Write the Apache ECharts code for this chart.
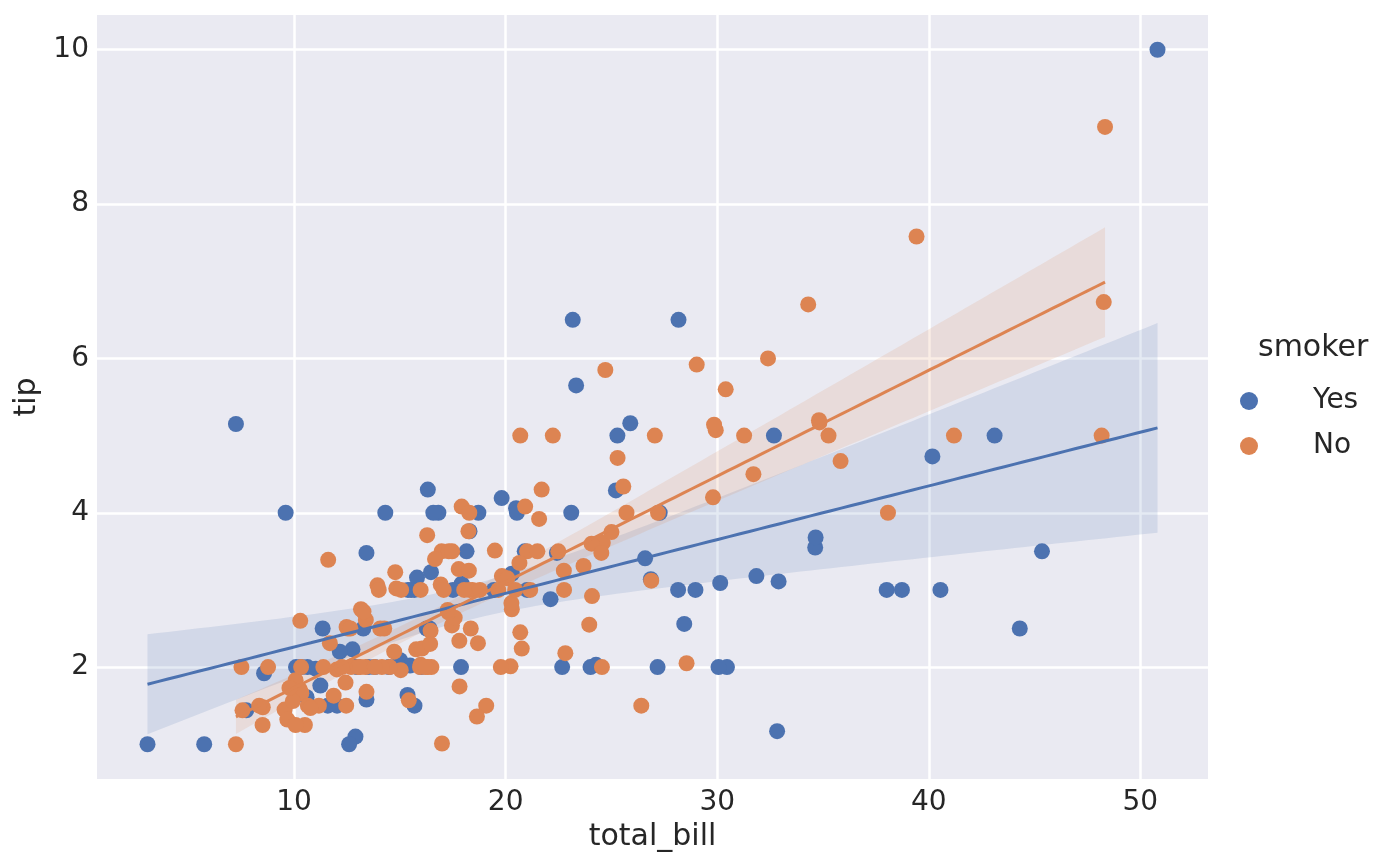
<!DOCTYPE html>
<html>
<head>
<meta charset="utf-8">
<script src="https://cdn.jsdelivr.net/npm/echarts@6/dist/echarts.min.js"></script>
<style>
  html, body { margin: 0; padding: 0; background: #fff; }
  #main { width: 1400px; height: 866px; }
</style>
</head>
<body>
<div id="main"></div>
<script>
// smoker = Yes
const yesBill = [38.01,11.24,20.29,13.81,11.02,18.29,3.07,15.01,26.86,25.28,17.92,19.44,32.68,28.97,5.75,16.32,40.17,27.28,12.03,21.01,
  11.35,15.38,44.3,22.42,15.36,20.49,25.21,14.31,16.0,17.51,10.59,10.63,50.81,15.81,7.25,31.85,16.82,32.9,17.89,14.48,
  9.6,34.63,34.65,23.33,45.35,23.17,40.55,20.9,30.46,18.15,23.1,15.69,19.81,28.44,15.48,16.58,10.34,43.11,13.0,13.51,
  18.71,12.74,13.0,16.4,20.53,16.47,26.59,38.73,24.27,12.76,30.06,25.89,13.27,28.17,12.9,28.15,11.59,7.74,30.14,12.16,
  13.42,8.58,13.42,16.27,10.09,22.12,24.01,15.69,15.53,12.6,32.83,27.18,22.67];
const yesTip = [3.0,1.76,3.21,2.0,1.98,3.76,1.0,2.09,3.14,5.0,3.08,3.0,5.0,3.0,1.0,4.3,4.73,4.0,1.5,3.0,
  2.5,3.0,2.5,3.48,1.64,4.06,4.29,4.0,2.0,3.0,1.61,2.0,10.0,3.16,5.15,3.18,4.0,3.11,2.0,2.0,
  4.0,3.55,3.68,5.65,3.5,6.5,3.0,3.5,2.0,3.5,4.0,1.5,4.19,2.56,2.02,4.0,2.0,5.0,2.0,2.0,
  4.0,2.01,2.0,2.5,4.0,3.23,3.41,3.0,2.03,2.23,2.0,5.16,2.5,6.5,1.1,3.0,1.5,1.44,3.09,2.2,
  3.48,1.92,1.58,2.5,2.0,2.88,2.0,3.0,3.0,1.0,1.17,2.0,2.0];

// smoker = No
const noBill = [16.99,10.34,21.01,23.68,24.59,25.29,8.77,26.88,15.04,14.78,10.27,35.26,15.42,18.43,14.83,21.58,10.33,16.29,16.97,20.65,
  17.92,20.29,15.77,39.42,19.82,17.81,13.37,12.69,21.7,19.65,9.55,18.35,15.06,20.69,17.78,24.06,16.31,16.93,18.69,31.27,
  16.04,17.46,13.94,9.68,30.4,18.29,22.23,32.4,28.55,18.04,12.54,10.29,34.81,9.94,25.56,19.49,26.41,48.27,17.59,20.08,
  16.45,20.23,12.02,17.07,14.73,10.51,27.2,22.76,17.29,16.66,10.07,15.98,34.83,13.03,18.28,24.71,21.16,22.49,22.75,12.46,
  20.92,18.24,14.0,7.25,38.07,23.95,25.71,17.31,29.93,10.65,12.43,24.08,11.69,13.42,14.26,15.95,12.48,29.8,8.52,14.52,
  11.38,22.82,19.08,20.27,11.17,12.26,18.26,8.51,10.33,14.15,13.16,17.47,34.3,41.19,27.05,16.43,8.35,18.64,11.87,9.78,
  7.51,14.07,13.13,17.26,24.55,19.77,29.85,48.17,25.0,13.39,16.49,21.5,12.66,16.21,13.81,24.52,20.76,31.71,20.69,7.56,
  48.33,15.98,20.45,13.28,11.61,10.77,10.07,35.83,29.03,17.82,18.78];
const noTip = [1.01,1.66,3.5,3.31,3.61,4.71,2.0,3.12,1.96,3.23,1.71,5.0,1.57,3.0,3.02,3.92,1.67,3.71,3.5,3.35,
  4.08,2.75,2.23,7.58,3.18,2.34,2.0,2.0,4.3,3.0,1.45,2.5,3.0,2.45,3.27,3.6,2.0,3.07,2.31,5.0,
  2.24,2.54,3.06,1.32,5.6,3.0,5.0,6.0,2.05,3.0,2.5,2.6,5.2,1.56,4.34,3.51,1.5,6.73,2.64,3.15,
  2.47,2.01,1.97,3.0,2.2,1.25,4.0,3.0,2.71,3.4,1.83,2.03,5.17,2.0,4.0,5.85,3.0,3.5,3.25,1.5,
  4.08,3.76,3.0,1.0,4.0,2.55,4.0,3.5,5.07,1.5,1.8,2.92,2.31,1.68,2.5,2.0,2.52,4.2,1.48,2.0,
  2.0,2.18,1.5,2.83,1.5,2.0,3.25,1.25,2.0,2.0,2.75,3.5,6.7,5.0,5.0,2.3,1.5,1.36,1.63,1.73,
  2.0,2.5,2.0,2.74,2.0,2.0,5.14,5.0,3.75,2.61,2.0,3.5,2.5,2.0,2.0,3.48,2.24,4.5,5.0,1.44,
  9.0,3.0,3.0,2.72,3.39,1.47,1.25,4.67,5.92,1.75,3.0];

const groups = ['Yes', 'No'];
const xTicks = [10, 20, 30, 40, 50];
const yTicks = [2, 4, 6, 8, 10];
const colors = ['#4C72B0', '#DD8452'];

// ordinary least squares with a robust (sandwich) 95% band, close to seaborn's bootstrap
function regress(xs, ys) {
  const n = xs.length;
  let sx = 0, sy = 0, sxx = 0, sxy = 0;
  for (let i = 0; i < n; i++) { sx += xs[i]; sy += ys[i]; sxx += xs[i] * xs[i]; sxy += xs[i] * ys[i]; }
  const b = (n * sxy - sx * sy) / (n * sxx - sx * sx);
  const a = (sy - b * sx) / n;
  const det = n * sxx - sx * sx;
  const i00 = sxx / det, i01 = -sx / det, i11 = n / det;
  let m00 = 0, m01 = 0, m11 = 0;
  for (let i = 0; i < n; i++) {
    const e = ys[i] - (a + b * xs[i]);
    const e2 = e * e;
    m00 += e2; m01 += e2 * xs[i]; m11 += e2 * xs[i] * xs[i];
  }
  // V = inv * M * inv
  const t00 = i00 * m00 + i01 * m01, t01 = i00 * m01 + i01 * m11;
  const t10 = i01 * m00 + i11 * m01, t11 = i01 * m01 + i11 * m11;
  const k = n / (n - 2);
  const v00 = (t00 * i00 + t01 * i01) * k;
  const v01 = (t00 * i01 + t01 * i11) * k;
  const v11 = (t10 * i01 + t11 * i11) * k;
  const lo = Math.min(...xs), hi = Math.max(...xs);
  const line = [], band = [];
  for (let j = 0; j < 100; j++) {
    const x = lo + (hi - lo) * j / 99;
    const y = a + b * x;
    const se = Math.sqrt(v00 + 2 * x * v01 + x * x * v11);
    line.push([x, y]);
    band.push([x, y - 1.96 * se, y + 1.96 * se]);
  }
  return { line, band };
}

const fits = [regress(yesBill, yesTip), regress(noBill, noTip)];
const points = [yesBill.map((v, i) => [v, yesTip[i]]), noBill.map((v, i) => [v, noTip[i]])];

const allX = yesBill.concat(noBill);
const allY = yesTip.concat(noTip);
fits.forEach(f => f.band.forEach(p => { allY.push(p[1], p[2]); }));
const xMin0 = Math.min(...allX), xMax0 = Math.max(...allX);
const yMin0 = Math.min(...allY), yMax0 = Math.max(...allY);
const xPad = (xMax0 - xMin0) * 0.05, yPad = (yMax0 - yMin0) * 0.05;

const font = 'DejaVu Sans';
const series = [];
groups.forEach((g, gi) => {
  series.push({
    name: g,
    type: 'scatter',
    data: points[gi],
    symbolSize: 16,
    itemStyle: { color: colors[gi], opacity: 1 },
    z: 2
  });
  series.push({
    name: g + ' ci',
    type: 'custom',
    data: [0],
    z: 2,
    silent: true,
    renderItem: function (params, api) {
      const band = fits[gi].band;
      const pts = band.map(p => api.coord([p[0], p[2]]));
      for (let j = band.length - 1; j >= 0; j--) pts.push(api.coord([band[j][0], band[j][1]]));
      return {
        type: 'polygon',
        shape: { points: pts },
        style: { fill: colors[gi], opacity: 0.15 }
      };
    }
  });
});
groups.forEach((g, gi) => {
  series.push({
    name: g + ' fit',
    type: 'line',
    data: fits[gi].line,
    showSymbol: false,
    lineStyle: { color: colors[gi], width: 3 },
    z: 3
  });
});

const chart = echarts.init(document.getElementById('main'));
chart.setOption({
  animation: false,
  backgroundColor: '#ffffff',
  textStyle: { fontFamily: font },
  grid: { left: 97, right: 192, top: 15, bottom: 87, backgroundColor: '#EAEAF2', show: true, borderWidth: 0 },
  title: {
    text: 'smoker',
    left: 1253, top: 328,
    textStyle: { fontFamily: font, fontSize: 30, fontWeight: 'normal', color: '#262626' }
  },
  legend: {
    data: groups,
    orient: 'vertical',
    left: 1235, top: 382,
    itemWidth: 18, itemHeight: 18,
    itemGap: 17,
    icon: 'circle',
    textStyle: { fontFamily: font, fontSize: 28, color: '#262626', padding: [0, 0, 0, 50] }
  },
  xAxis: {
    type: 'value',
    min: xMin0 - xPad,
    max: xMax0 + xPad,
    name: 'total_bill',
    nameLocation: 'middle',
    nameGap: 38,
    nameTextStyle: { fontFamily: font, fontSize: 30, color: '#262626' },
    axisLine: { show: false },
    axisTick: { show: false, customValues: xTicks },
    axisLabel: { customValues: xTicks, fontFamily: font, fontSize: 28, color: '#262626', margin: 10 },
    splitLine: { show: true, lineStyle: { color: '#ffffff', width: 2.5 } }
  },
  yAxis: {
    type: 'value',
    min: yMin0 - yPad,
    max: yMax0 + yPad,
    name: 'tip',
    nameLocation: 'middle',
    nameGap: 47,
    nameTextStyle: { fontFamily: font, fontSize: 30, color: '#262626' },
    axisLine: { show: false },
    axisTick: { show: false, customValues: yTicks },
    axisLabel: { customValues: yTicks, fontFamily: font, fontSize: 28, color: '#262626', margin: 8 },
    splitLine: { show: true, lineStyle: { color: '#ffffff', width: 2.5 } }
  },
  series: series
});
</script>
</body>
</html>
